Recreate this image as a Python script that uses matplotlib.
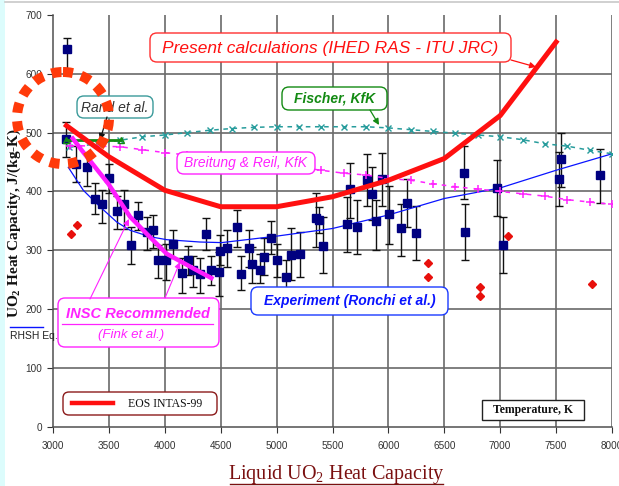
import matplotlib
matplotlib.use('Agg')
import matplotlib.pyplot as plt
from matplotlib.patches import FancyBboxPatch, Ellipse, Rectangle

plt.rcParams['font.family'] = ['Liberation Sans', 'DejaVu Sans']
plt.rcParams['mathtext.fontset'] = 'custom'
plt.rcParams['mathtext.rm'] = 'Liberation Serif'
plt.rcParams['mathtext.bf'] = 'Liberation Serif:bold'
plt.rcParams['mathtext.it'] = 'Liberation Serif:italic'

# ---- EOS INTAS-99 calculation (IHED RAS - ITU JRC)
eos_T = [3120, 3500, 4000, 4500, 5000, 5500, 6000, 6500, 7000, 7500]
eos_cp = [512, 459, 402, 374, 374, 391, 419, 456, 529, 654]

# ---- INSC recommended (Fink et al.)
insc_T = [3165, 3257, 3495, 3689, 3838, 4017, 4315, 4434]
insc_cp = [493, 470, 413, 357, 328, 294, 263, 251]

# ---- RHSH equation fit to experiment
rhsh_T = [3137, 3271, 3420, 3570, 3689, 3868, 4017, 4315, 4509, 5000,
          5500, 6000, 6500, 7000, 7500, 8000]
rhsh_cp = [441, 402, 374, 348, 334, 323, 318, 314, 313, 324,
           337, 360, 388, 406, 436, 464]

# ---- Fischer, KfK
fis_T = [3140, 3400, 3600, 3800, 4000, 4200, 4400, 4600, 4800, 5000, 5200,
         5400, 5600, 5800, 6000, 6200, 6400, 6600, 6800, 7000, 7200, 7400,
         7600, 7800, 8000]
fis_cp = [475, 481, 487, 493, 496, 500, 504, 507, 509, 510, 510,
          510, 510, 510, 508, 505, 502, 499, 496, 493, 488, 481,
          477, 470, 464]

# ---- Breitung & Reil, KfK
br_T = [3150, 3400, 3600, 3800, 4000, 4200, 4400, 4600, 4800, 5000, 5200,
        5400, 5600, 5800, 6000, 6200, 6400, 6600, 6800, 7000, 7200, 7400,
        7600, 7800, 8000]
br_cp = [478, 477, 476, 471, 466, 462, 458, 454, 450, 446, 441,
         436, 431, 428, 422, 419, 413, 408, 404, 400, 396, 392,
         386, 382, 378]

# ---- Rand et al.
rand_T = [3120, 3610]
rand_cp = [487, 487]

# ---- Experiment (Ronchi et al.): temperature, cp, upper and lower bar ends
exp_T = [3122, 3120, 3206, 3307, 3376, 3436, 3503, 3568, 3634, 3695,
         3762, 3838, 3890, 3942, 4011, 4076, 4151, 4204, 4249, 4315,
         4369, 4411, 4482, 4494, 4553, 4643, 4679, 4750, 4780, 4854,
         4885, 4947, 5006, 5081, 5129, 5213, 5350, 5382, 5412, 5633,
         5656, 5722, 5811, 5850, 5889, 5940, 6008, 6115, 6163, 6247,
         6679, 6688, 6974, 7022, 7529, 7544, 7893]
exp_cp = [643, 490, 447, 441, 388, 378, 423, 366, 378, 309,
          360, 331, 335, 283, 283, 310, 262, 284, 267, 259,
          328, 267, 263, 299, 304, 339, 259, 304, 276, 267,
          288, 321, 283, 255, 292, 293, 355, 351, 307, 345,
          404, 340, 419, 395, 350, 421, 362, 337, 380, 330,
          431, 331, 406, 309, 421, 456, 428]
exp_hi = [661, 518, 477, 464, 414, 403, 447, 392, 402, 339,
          382, 357, 360, 309, 310, 334, 286, 307, 290, 286,
          354, 290, 297, 326, 334, 368, 290, 334, 306, 294,
          320, 350, 311, 283, 337, 331, 398, 373, 357, 391,
          449, 385, 464, 442, 386, 465, 409, 379, 422, 375,
          478, 378, 454, 357, 467, 499, 473]
exp_lo = [608, 459, 416, 409, 361, 347, 398, 336, 336, 277,
          334, 300, 303, 252, 250, 286, 227, 258, 238, 227,
          301, 241, 222, 275, 272, 306, 232, 272, 244, 244,
          258, 294, 255, 224, 249, 255, 306, 330, 261, 297,
          354, 294, 375, 351, 300, 375, 311, 290, 340, 284,
          388, 284, 358, 261, 375, 408, 380]

# ---- isolated points (red diamonds)
dia_T = [3161, 3212, 6352, 6352, 6819, 6819, 7073, 7824]
dia_cp = [327, 343, 279, 255, 238, 223, 325, 242]

x_ticks = list(range(3000, 8001, 500))
y_ticks = list(range(0, 701, 100))

W, H = 619, 486
fig = plt.figure(figsize=(W / 100, H / 100), dpi=100)
fig.patch.set_facecolor('white')

ax = fig.add_axes([53 / W, 1 - 426.7 / H, (612 - 53) / W, (426.7 - 15) / H])
ax.set_xlim(3000, 8000)
ax.set_ylim(0, 700)
ax.set_xticks(x_ticks)
ax.set_yticks(y_ticks)
ax.grid(True, color='#6a6a6a', lw=1.2)
ax.set_axisbelow(True)
ygl = ax.get_ygridlines()
ygl[0].set_visible(False)
ygl[-1].set_visible(False)
ax.get_xgridlines()[0].set_visible(False)
for s in ('top', 'right'):
    ax.spines[s].set_visible(False)
for s in ('left', 'bottom'):
    ax.spines[s].set_color('#505050')
    ax.spines[s].set_linewidth(1.1)
ax.tick_params(axis='y', length=4, color='#333333', labelsize=7.2,
               labelcolor='#333333', pad=3.5, direction='out')
ax.tick_params(axis='x', length=4, color='#333333', labelsize=7.2,
               labelcolor='#333333', pad=6, direction='out')

# experimental data with error bars
yerr = [[c - lo for c, lo in zip(exp_cp, exp_lo)],
        [hi - c for c, hi in zip(exp_cp, exp_hi)]]
ax.errorbar(exp_T, exp_cp, yerr=yerr, fmt='none', ecolor='#111111',
            elinewidth=1.0, capsize=3, capthick=1.0, zorder=2)
ax.plot(rhsh_T, rhsh_cp, color='#0a14ff', lw=0.9, zorder=3)
ax.plot(exp_T, exp_cp, ls='none', marker='s', ms=5.2, mfc='#000080',
        mec='#000080', zorder=4)
ax.plot(dia_T, dia_cp, ls='none', marker='D', ms=3.6, mfc='#e8100c',
        mec='#e8100c', zorder=4)

ax.plot(fis_T, fis_cp, color='#279c9c', lw=1.1, ls=(0, (3, 3)),
        marker='x', ms=4, mew=1.0, zorder=5)
ax.plot(br_T, br_cp, color='#ff22ff', lw=1.1, ls=(0, (3, 4)),
        marker='+', ms=6, mew=1.1, zorder=5)
ax.plot(rand_T, rand_cp, color='#138a13', lw=2.0, marker='^', ms=4.5,
        mfc='none', mec='#138a13', zorder=6)
ax.plot(insc_T, insc_cp, color='#ff1cff', lw=3.2, solid_capstyle='butt',
        zorder=6)
ax.plot(eos_T, eos_cp, color='#ff1010', lw=3.6, solid_joinstyle='round',
        zorder=7)

# ---- overlay in pixel units for labels and callouts
ov = fig.add_axes([0, 0, 1, 1], zorder=5)
ov.set_xlim(0, W)
ov.set_ylim(H, 0)
ov.axis('off')
ov.patch.set_alpha(0)

ov.add_patch(Rectangle((0, 0), 5, H, facecolor='#dcfcfc', edgecolor='none'))
ov.plot([5, 619], [2.5, 2.5], color='#c8c8c8', lw=1.2)


def box(x0, y0, x1, y1, ec, lw=1.0, rad=7):
    ov.add_patch(FancyBboxPatch((x0 + rad, y0 + rad), x1 - x0 - 2 * rad,
                                y1 - y0 - 2 * rad,
                                boxstyle='round,pad=%g,rounding_size=%g' % (rad, rad),
                                facecolor='white', edgecolor=ec, lw=lw,
                                zorder=3))


def arrow(x0, y0, x1, y1, c, lw=0.9):
    ov.annotate('', xy=(x1, y1), xytext=(x0, y0),
                arrowprops=dict(arrowstyle='-|>', color=c, lw=lw,
                                mutation_scale=9, shrinkA=0, shrinkB=0),
                zorder=4)


# Present calculations
box(150, 33, 511, 62, '#ff3030')
ov.text(330.5, 48, 'Present calculations (IHED RAS - ITU JRC)', color='#ff1010',
        fontsize=12.5, style='italic', ha='center', va='center', zorder=5)
arrow(511, 60, 536, 67, '#ff1010')

# Rand et al.
box(77, 96, 153, 118, '#3a9a9a')
ov.text(115, 107.5, 'Rand et al.', color='#333333', fontsize=10,
        style='italic', ha='center', va='center', zorder=5)
arrow(107, 117, 100, 140, '#111111')

# Fischer, KfK
box(282, 87, 387, 110, '#138a13')
ov.text(334.5, 98.5, 'Fischer, KfK', color='#138a13', fontsize=10,
        style='italic', weight='bold', ha='center', va='center', zorder=5)
arrow(370, 110, 379, 125, '#138a13')

# Breitung & Reil, KfK
box(177, 152, 315, 174, '#ff22ff')
ov.text(246, 163, 'Breitung & Reil, KfK', color='#ff22ff', fontsize=10,
        style='italic', ha='center', va='center', zorder=5)

# INSC Recommended
box(58, 298, 219, 347, '#ff22ff')
ov.text(137.5, 314, 'INSC Recommended', color='#ff22ff', fontsize=10.5,
        style='italic', weight='bold', ha='center', va='center', zorder=5)
ov.plot([62, 213], [324, 324], color='#ff22ff', lw=0.9, zorder=5)
ov.text(131, 335, '(Fink et al.)', color='#ff22ff', fontsize=9.5,
        style='italic', ha='center', va='center', zorder=5)
arrow(90, 299, 129, 219, '#ff22ff', lw=0.8)
arrow(165, 298, 180, 262, '#ff22ff', lw=0.8)

# Experiment (Ronchi et al.)
box(251, 287, 448, 315, '#1a3aff')
ov.text(349.5, 301, 'Experiment (Ronchi et al.)', color='#0a14ff', fontsize=10,
        style='italic', weight='bold', ha='center', va='center', zorder=5)

# legend
box(63, 392, 217, 415, '#8b1a1a', rad=6)
ov.plot([72, 113], [403, 403], color='#ff1010', lw=3.2, zorder=5)
ov.text(128, 404, 'EOS INTAS-99', color='#111111', fontsize=8.5,
        family='Liberation Serif', ha='left', va='center', zorder=5)

# axis title box
ov.add_patch(Rectangle((482, 399.5), 102, 20, facecolor='white',
                       edgecolor='#222222', lw=1.0, zorder=3))
ov.text(533, 409.5, 'Temperature, K', color='#111111', fontsize=8.5,
        family='Liberation Serif', weight='bold', ha='center', va='center',
        zorder=5)

# y-axis label
ov.text(14.5, 223, r'UO$_\mathbf{2}$ Heat Capacity, J/(kg-K)', rotation=90,
        color='#111111', fontsize=11, family='Liberation Serif',
        weight='bold', ha='center', va='center')
ov.plot([10, 43], [327, 327], color='#0a14ff', lw=1.0)
ov.text(10, 336, 'RHSH Eq.', color='#222222', fontsize=7.5, ha='left',
        va='center')

# chart title
ov.text(337, 479, r'Liquid UO$_2$ Heat Capacity', color='#7a1010', fontsize=14.5,
        family='Liberation Serif', ha='center', va='baseline')
ov.plot([230, 443], [484, 484], color='#7a1010', lw=1.0)

# highlight ring
ov.add_patch(Ellipse((63, 118), 92, 92, facecolor='none', edgecolor='#ff3a0a',
                     lw=7.2, ls=(0, (1.0, 0.85)), capstyle='butt', zorder=8))

fig.savefig('out.png', dpi=100, facecolor='white')
